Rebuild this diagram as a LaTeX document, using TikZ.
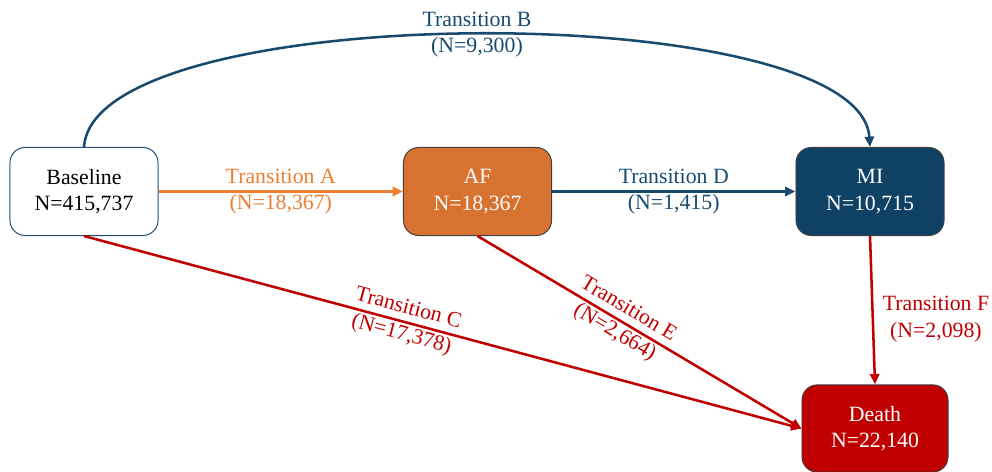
\documentclass[tikz,border=0pt]{standalone}
\usepackage{fontspec}
\setmainfont{Liberation Serif}
\usetikzlibrary{arrows.meta}

\definecolor{baseblue}{RGB}{31,78,121}
\definecolor{miblue}{RGB}{14,65,100}
\definecolor{linkblue}{RGB}{24,74,110}
\definecolor{afbox}{RGB}{216,114,48}
\definecolor{aforange}{RGB}{237,125,49}
\definecolor{deathred}{RGB}{192,0,0}

\tikzset{
	state/.style={rectangle, rounded corners=0.38cm, minimum width=3.7cm, minimum height=2.2cm,
		align=center, line width=0.7pt, font=\fontsize{15.5}{19}\selectfont},
	trans/.style={line width=1.8pt, -{Triangle[length=0.26cm, width=0.23cm]}},
	translabel/.style={align=center, font=\fontsize{15.5}{19}\selectfont}
}

\begin{document}
\begin{tikzpicture}[x=0.025cm, y=-0.025cm]
	\useasboundingbox (0, 0) rectangle (992, 472);

	\node[state, draw=baseblue, fill=white, text=black] (base) at (84, 191.5) {Baseline\\N=415,737};
	\node[state, draw=black!75, fill=afbox, text=white] (af) at (477.5, 191.5) {AF\\N=18,367};
	\node[state, draw=black!75, fill=miblue, text=white] (mi) at (870, 191.5) {MI\\N=10,715};
	\node[state, draw=black!75, fill=deathred, text=white, minimum width=3.65cm, minimum height=2.18cm] (death) at (875, 428.5) {Death\\N=22,140};

	% Transitions between the states
	\draw[trans, color=aforange] (base) -- node[translabel, text=aforange] {Transition A\\(N=18,367)} (af);
	\draw[trans, color=linkblue] (af) -- node[translabel, text=linkblue] {Transition D\\(N=1,415)} (mi);
	\draw[trans, color=linkblue] (base.north) .. controls +(10, -150) and +(-10, -150) .. node[translabel, text=linkblue] {Transition B\\(N=9,300)} (mi.north);
	\draw[trans, color=deathred] (base.south) -- node[translabel, text=deathred, sloped, pos=0.447] {Transition C\\(N=17,378)} (death.west);
	\draw[trans, color=deathred] (af.south) -- node[translabel, text=deathred, sloped, pos=0.444] {Transition E\\(N=2,664)} (death.west);
	\draw[trans, color=deathred] (mi.south) -- node[translabel, text=deathred, right=0.1cm, pos=0.56] {Transition F\\(N=2,098)} (death.north);
\end{tikzpicture}
\end{document}
